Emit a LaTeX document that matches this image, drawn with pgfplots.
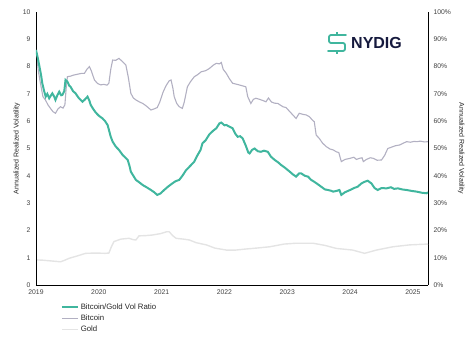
\documentclass[border=0pt]{standalone}
\usepackage{pgfplots}
\pgfplotsset{compat=1.18}
\usepackage{fontspec}
\setmainfont{Liberation Sans}
\definecolor{teal1}{RGB}{64,182,158}
\definecolor{btc}{RGB}{178,176,194}
\definecolor{gold}{RGB}{228,228,228}
\definecolor{navy}{RGB}{22,26,62}
\begin{document}
\begin{tikzpicture}
\useasboundingbox (-36pt,-55pt) rectangle (434pt,285pt);
% right axis: Bitcoin and Gold (percent)
\begin{axis}[
  scale only axis, width=392pt, height=273pt,
  xmin=2019, xmax=2025.24, ymin=0, ymax=100,
  axis x line=none, axis y line*=right,
  ytick={0,10,...,100}, yticklabel={\pgfmathprintnumber{\tick}\%},
  major tick length=0pt,
  yticklabel style={font=\fontsize{6.8}{7}\selectfont, text=black!75, xshift=2pt},
  /pgf/number format/assume math mode=true,
  ylabel={Annualized Realized Volatility},
  ylabel style={font=\fontsize{7}{8}\selectfont, rotate=180, text=black!85},
  axis line style={black, line width=0.8pt},
]
\addplot[gold, line width=1.4pt] coordinates {
(2019.00,9.2)(2019.10,9.1)(2019.25,8.8)(2019.39,8.5)(2019.45,9.0)(2019.53,9.8)(2019.65,10.6)(2019.79,11.6)(2019.95,11.7)(2020.10,11.6)(2020.16,11.7)(2020.20,14)(2020.24,15.9)(2020.35,16.8)(2020.48,17.1)(2020.55,16.6)(2020.59,16.5)(2020.64,18.0)(2020.75,18.1)(2020.85,18.3)(2020.98,18.8)(2021.08,19.5)(2021.12,19.5)(2021.18,18)(2021.23,17.1)(2021.35,16.8)(2021.44,16.5)(2021.55,15.5)(2021.71,14.7)(2021.85,13.5)(2022.03,12.8)(2022.18,12.8)(2022.35,13.2)(2022.50,13.5)(2022.72,14.0)(2022.95,15.0)(2023.14,15.3)(2023.41,15.3)(2023.60,14.5)(2023.78,13.4)(2024.04,12.8)(2024.23,11.6)(2024.42,12.8)(2024.68,14.0)(2024.95,14.7)(2025.24,15.0)
};
\addplot[btc, line width=1.1pt] coordinates {
(2019.00,86)(2019.04,78)(2019.07,74)(2019.11,69)(2019.15,67.8)(2019.19,66)(2019.23,64.7)(2019.27,63.5)(2019.31,62.9)(2019.35,64.5)(2019.39,65.3)(2019.43,64.8)(2019.46,66)(2019.48,72)(2019.50,76.3)(2019.55,76.5)(2019.60,76.9)(2019.66,77.2)(2019.72,77.5)(2019.77,77.5)(2019.81,79)(2019.85,80)(2019.88,78.5)(2019.93,75.1)(2019.98,73.8)(2020.03,73.3)(2020.08,73.5)(2020.13,73.2)(2020.16,73.9)(2020.19,79)(2020.22,82.4)(2020.27,82.3)(2020.32,83)(2020.37,82)(2020.43,80.6)(2020.47,76)(2020.51,70.2)(2020.55,68.5)(2020.59,67.8)(2020.65,67)(2020.70,66.5)(2020.76,65.5)(2020.83,64.1)(2020.88,64.5)(2020.93,65)(2020.97,67)(2021.02,70.5)(2021.07,73)(2021.12,74.8)(2021.15,75.1)(2021.18,72)(2021.20,69)(2021.24,66.5)(2021.28,65.3)(2021.33,64.7)(2021.36,67)(2021.41,72.6)(2021.46,74.5)(2021.52,76.3)(2021.57,77)(2021.63,78.1)(2021.70,78.5)(2021.76,79.3)(2021.82,80.5)(2021.87,81.2)(2021.92,81)(2021.95,81.5)(2021.98,79)(2022.03,77.5)(2022.08,75.5)(2022.13,73.9)(2022.20,73.5)(2022.28,73)(2022.34,72.6)(2022.37,69)(2022.42,66.5)(2022.46,68)(2022.50,68.4)(2022.56,68)(2022.62,67.5)(2022.66,67.1)(2022.70,68.5)(2022.75,67)(2022.80,66.6)(2022.85,66.5)(2022.93,65.3)(2022.98,65)(2023.04,63.5)(2023.10,62)(2023.14,61)(2023.19,62.9)(2023.25,62.5)(2023.30,62.3)(2023.35,61.7)(2023.40,60.4)(2023.43,59.8)(2023.46,54.9)(2023.51,53.7)(2023.56,52)(2023.62,50.7)(2023.68,49.8)(2023.73,49.5)(2023.78,48.8)(2023.82,48.5)(2023.86,45.2)(2023.92,46)(2024.00,46.4)(2024.06,46.8)(2024.10,46)(2024.15,46.4)(2024.19,46.6)(2024.21,45.2)(2024.26,46)(2024.32,46.6)(2024.37,46.4)(2024.43,45.7)(2024.50,45.8)(2024.55,47.5)(2024.60,50)(2024.66,50.5)(2024.72,51)(2024.79,51.3)(2024.85,52)(2024.90,52.5)(2024.96,52.3)(2025.02,52.6)(2025.06,52.5)(2025.12,52.7)(2025.18,52.4)(2025.24,52.5)
};
\end{axis}
% left axis: ratio
\begin{axis}[
  scale only axis, width=392pt, height=273pt,
  xmin=2019, xmax=2025.24, ymin=0, ymax=10,
  axis x line*=bottom, axis y line*=left,
  xtick={2019,...,2025}, ytick={0,1,...,10},
  major tick length=0pt,
  /pgf/number format/1000 sep={},
  /pgf/number format/assume math mode=true,
  ticklabel style={font=\fontsize{6.8}{7}\selectfont, text=black!75},
  xticklabel style={yshift=-1pt},
  yticklabel style={xshift=-2pt},
  ylabel={Annualized Realized Volatility},
  ylabel style={font=\fontsize{7}{8}\selectfont, text=black!85, yshift=-4pt},
  axis line style={black, line width=0.8pt},
  legend style={at={(rel axis cs:0.055,-0.052)}, anchor=north west, draw=none, fill=none,
    font=\fontsize{7.8}{9}\selectfont, row sep=0.2pt, text=black!85},
  legend cell align=left,
  legend image code/.code={\draw[#1] (0pt,0pt) -- (16pt,0pt);},
  every legend image post/.style={},
]
\addplot[color=teal1, draw=teal1, line width=2pt] coordinates {
(2019.00,8.61)(2019.03,8.3)(2019.05,8.06)(2019.08,7.7)(2019.10,7.39)(2019.13,7.1)(2019.155,6.90)(2019.18,7.0)(2019.21,6.84)(2019.24,6.95)(2019.26,7.02)(2019.29,6.9)(2019.31,6.78)(2019.34,6.95)(2019.37,7.08)(2019.40,6.95)(2019.42,6.96)(2019.45,7.1)(2019.47,7.51)(2019.50,7.45)(2019.53,7.3)(2019.55,7.26)(2019.59,7.1)(2019.63,7.02)(2019.68,6.85)(2019.74,6.71)(2019.78,6.8)(2019.82,6.90)(2019.85,6.75)(2019.87,6.60)(2019.91,6.45)(2019.95,6.32)(2020.00,6.2)(2020.06,6.1)(2020.10,6.0)(2020.14,5.86)(2020.17,5.6)(2020.19,5.43)(2020.22,5.25)(2020.27,5.07)(2020.32,4.95)(2020.38,4.76)(2020.43,4.65)(2020.46,4.58)(2020.49,4.35)(2020.51,4.15)(2020.55,4.0)(2020.59,3.85)(2020.65,3.75)(2020.70,3.66)(2020.76,3.58)(2020.83,3.48)(2020.88,3.4)(2020.93,3.30)(2020.98,3.35)(2021.04,3.48)(2021.10,3.6)(2021.17,3.72)(2021.22,3.8)(2021.28,3.85)(2021.33,4.0)(2021.39,4.21)(2021.45,4.35)(2021.52,4.52)(2021.57,4.75)(2021.62,4.95)(2021.65,5.19)(2021.70,5.3)(2021.76,5.52)(2021.82,5.65)(2021.87,5.74)(2021.92,5.92)(2021.95,5.95)(2022.00,5.85)(2022.03,5.86)(2022.08,5.8)(2022.13,5.74)(2022.17,5.55)(2022.21,5.43)(2022.25,5.45)(2022.29,5.37)(2022.34,5.1)(2022.38,4.85)(2022.40,4.82)(2022.44,4.95)(2022.48,5.00)(2022.53,4.9)(2022.58,4.88)(2022.63,4.92)(2022.69,4.88)(2022.74,4.7)(2022.80,4.58)(2022.85,4.5)(2022.90,4.40)(2022.96,4.3)(2023.04,4.15)(2023.09,4.05)(2023.14,3.97)(2023.19,4.09)(2023.22,4.09)(2023.28,4.0)(2023.33,3.97)(2023.38,3.85)(2023.43,3.78)(2023.48,3.7)(2023.54,3.60)(2023.60,3.5)(2023.65,3.48)(2023.70,3.45)(2023.73,3.42)(2023.79,3.45)(2023.83,3.48)(2023.86,3.30)(2023.92,3.4)(2024.00,3.48)(2024.06,3.55)(2024.12,3.60)(2024.18,3.72)(2024.23,3.78)(2024.28,3.82)(2024.34,3.72)(2024.39,3.55)(2024.44,3.48)(2024.50,3.55)(2024.58,3.54)(2024.65,3.58)(2024.70,3.52)(2024.76,3.54)(2024.83,3.5)(2024.90,3.48)(2024.97,3.45)(2025.06,3.42)(2025.14,3.38)(2025.22,3.36)(2025.24,3.4)
};
\addlegendentry{Bitcoin/Gold Vol Ratio}
\addlegendimage{color=btc, draw=btc, line width=1.2pt}
\addlegendentry{Bitcoin}
\addlegendimage{color=gold, draw=gold, line width=1.4pt}
\addlegendentry{Gold}
\end{axis}
% logo
\begin{scope}[shift={(292pt,242pt)}]
  \draw[teal1, line width=1.8pt, line cap=round, rounded corners=2pt]
    (18pt,8pt) -- (1pt,8pt) -- (1pt,0pt) -- (17pt,0pt) -- (17pt,-8pt) -- (0pt,-8pt);
  \draw[teal1, line width=1.4pt] (9pt,8pt) -- (9pt,11pt) (9pt,-8pt) -- (9pt,-11pt);
  \node[anchor=west, text=navy, font=\fontsize{16}{17}\selectfont\bfseries, inner sep=0pt] at (23pt,0pt) {NYDIG};
\end{scope}
\end{tikzpicture}
\end{document}
